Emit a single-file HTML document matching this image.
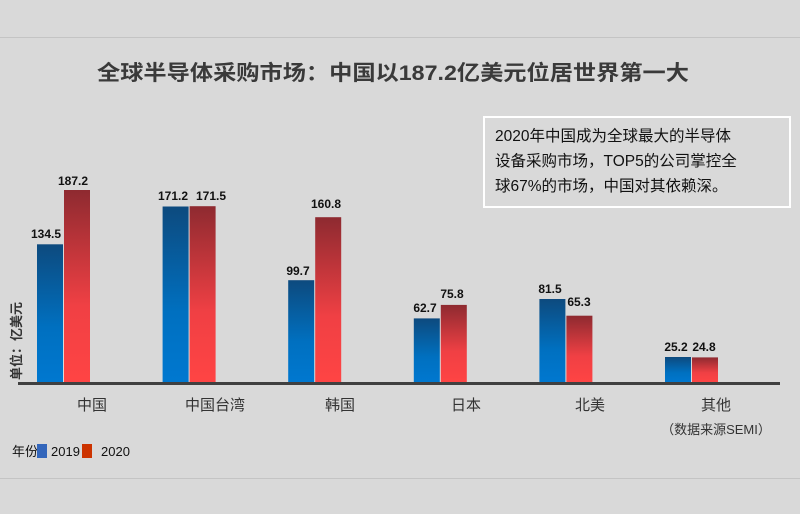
<!DOCTYPE html>
<html><head><meta charset="utf-8"><style>
body{margin:0;background:#d9d9d9;}
svg{display:block;font-family:"Liberation Sans","Noto Sans CJK SC",sans-serif;}
</style></head><body>
<svg width="800" height="514" viewBox="0 0 800 514">
<defs>
<linearGradient id="b" x1="0" y1="0" x2="0" y2="1"><stop offset="0" stop-color="#0d4a7e"/><stop offset="0.6" stop-color="#0070c0"/><stop offset="1" stop-color="#0078d0"/></linearGradient>
<linearGradient id="r" x1="0" y1="0" x2="0" y2="1"><stop offset="0" stop-color="#8e2a30"/><stop offset="0.6" stop-color="#f04044"/><stop offset="1" stop-color="#ff4444"/></linearGradient>
</defs>
<rect width="800" height="514" fill="#d9d9d9"/>
<line x1="0" y1="37.5" x2="800" y2="37.5" stroke="#c4c4c4"/>
<line x1="0" y1="478.5" x2="800" y2="478.5" stroke="#c4c4c4"/>
<text x="97" y="80" textLength="592" lengthAdjust="spacingAndGlyphs" font-size="21" font-weight="bold" fill="#3a3a3a">全球半导体采购市场：中国以187.2亿美元位居世界第一大</text>
<rect x="484" y="117" width="306" height="90" fill="none" stroke="#fff" stroke-width="2"/>
<g font-size="15.5" fill="#111">
<text x="495" y="141">2020年中国成为全球最大的半导体</text>
<text x="495" y="166">设备采购市场，TOP5的公司掌控全</text>
<text x="495" y="191">球67%的市场，中国对其依赖深。</text>
</g>
<text transform="translate(21,380) rotate(-90)" font-size="13" font-weight="bold" fill="#333">单位：亿美元</text>
<g font-size="12" font-weight="bold" fill="#111" text-anchor="middle">
<rect x="37" y="244.3" width="26" height="138.7" fill="url(#b)"/><rect x="64" y="190" width="26" height="193" fill="url(#r)"/>
<text x="46" y="238">134.5</text><text x="73" y="185">187.2</text>
<rect x="162.6" y="206.5" width="26" height="176.5" fill="url(#b)"/><rect x="189.6" y="206.2" width="26" height="176.8" fill="url(#r)"/>
<text x="173" y="200">171.2</text><text x="211" y="200">171.5</text>
<rect x="288.2" y="280.2" width="26" height="102.8" fill="url(#b)"/><rect x="315.2" y="217.2" width="26" height="165.8" fill="url(#r)"/>
<text x="298" y="275">99.7</text><text x="326" y="208">160.8</text>
<rect x="413.8" y="318.4" width="26" height="64.6" fill="url(#b)"/><rect x="440.8" y="304.9" width="26" height="78.1" fill="url(#r)"/>
<text x="425" y="312">62.7</text><text x="452" y="298">75.8</text>
<rect x="539.4" y="299" width="26" height="84" fill="url(#b)"/><rect x="566.4" y="315.7" width="26" height="67.3" fill="url(#r)"/>
<text x="550" y="293">81.5</text><text x="579" y="306">65.3</text>
<rect x="665" y="357" width="26" height="26" fill="url(#b)"/><rect x="692" y="357.4" width="26" height="25.6" fill="url(#r)"/>
<text x="676" y="351">25.2</text><text x="704" y="351">24.8</text>
</g>
<line x1="18" y1="383.5" x2="780" y2="383.5" stroke="#404040" stroke-width="3"/>
<g font-size="15" fill="#333" text-anchor="middle">
<text x="92" y="410">中国</text><text x="215" y="410">中国台湾</text><text x="340" y="410">韩国</text>
<text x="466" y="410">日本</text><text x="590" y="410">北美</text><text x="716" y="410">其他</text>
<text x="716" y="434" font-size="13">（数据来源SEMI）</text>
</g>
<text x="12" y="456" font-size="13" fill="#111">年份</text>
<rect x="37" y="444" width="10" height="14" fill="#3366bb"/>
<text x="51" y="456" font-size="13" fill="#111">2019</text>
<rect x="82" y="444" width="10" height="14" fill="#cc3300"/>
<text x="101" y="456" font-size="13" fill="#111">2020</text>
</svg>
</body></html>
